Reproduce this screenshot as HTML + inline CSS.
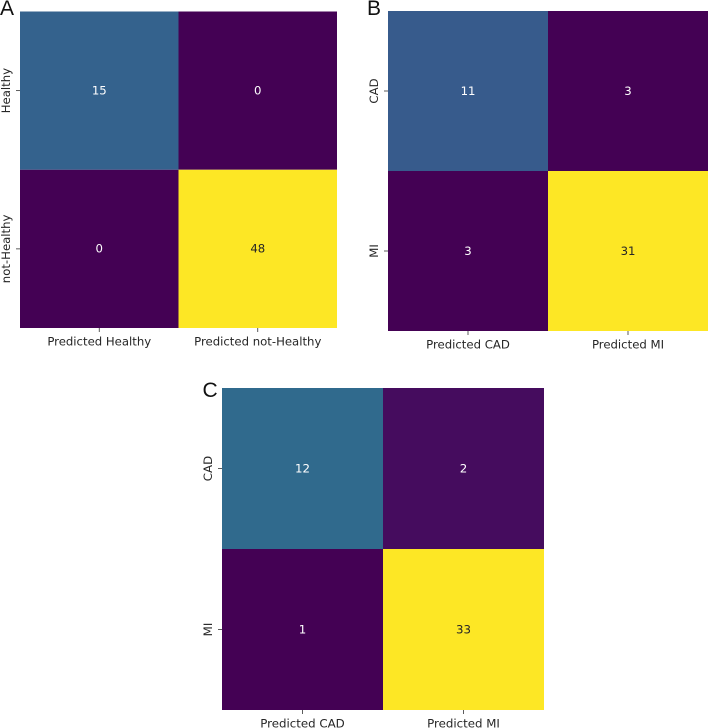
<!DOCTYPE html>
<html>
<head>
<meta charset="utf-8">
<title>Confusion matrices</title>
<style>
html,body{margin:0;padding:0;background:#fff;width:708px;height:728px;overflow:hidden}
svg{display:block}
text{font-family:"DejaVu Sans",sans-serif}
.panel-letter{font-family:"Liberation Sans",sans-serif;font-size:21px;fill:#111}
</style>
</head>
<body>
<svg id="chart" width="708" height="728" viewBox="0 0 708 728" xmlns="http://www.w3.org/2000/svg"></svg>
<script>
const panelLetters = ["A", "B", "C"];
const xCategoriesA = ["Predicted Healthy", "Predicted not-Healthy"];
const yCategoriesA = ["Healthy", "not-Healthy"];
const valuesA = [[15, 0], [0, 48]];
const xCategoriesB = ["Predicted CAD", "Predicted MI"];
const yCategoriesB = ["CAD", "MI"];
const valuesB = [[11, 3], [3, 31]];
const xCategoriesC = ["Predicted CAD", "Predicted MI"];
const yCategoriesC = ["CAD", "MI"];
const valuesC = [[12, 2], [1, 33]];

const viridisStops = ["#440154","#482475","#414487","#355f8d","#2a788e","#21918c","#22a884","#44bf70","#7ad151","#bddf26","#fde725"];
const NS = "http://www.w3.org/2000/svg";
const svg = document.getElementById("chart");

function hexToRgb(h){return [1,3,5].map(function(i){return parseInt(h.substr(i,2),16);});}
function viridis(t){
  const p = Math.max(0,Math.min(1,t))*(viridisStops.length-1);
  const i = Math.min(Math.floor(p),viridisStops.length-2);
  const f = p-i;
  const a = hexToRgb(viridisStops[i]), b = hexToRgb(viridisStops[i+1]);
  return "rgb("+a.map(function(v,k){return Math.round(v+(b[k]-v)*f);}).join(",")+")";
}
function make(tag,attrs,parent){
  const el = document.createElementNS(NS,tag);
  for(const k in attrs){el.setAttribute(k,attrs[k]);}
  parent.appendChild(el);
  return el;
}
function slug(s){return s.toLowerCase().replace(/[^a-z0-9]+/g,"-");}

function drawPanel(cfg){
  const values = cfg.values, rows = values.length, cols = values[0].length;
  const flat = values.reduce(function(a,r){return a.concat(r);},[]);
  const min = Math.min.apply(null,flat), max = Math.max.apply(null,flat);
  const xScale = function(i){return cfg.x0+(cfg.x1-cfg.x0)*i/cols;};
  const yScale = function(i){return cfg.y0+(cfg.y1-cfg.y0)*i/rows;};
  const norm = function(v){return (v-min)/(max-min);};

  const g = make("g",{},svg);
  
  

  const letter = make("text",{x:cfg.lx,y:cfg.ly,"class":"panel-letter"},g);
  letter.textContent = cfg.letter;
  
  

  values.forEach(function(row,r){
    row.forEach(function(v,c){
      const cell = make("rect",{x:xScale(c),y:yScale(r),width:xScale(c+1)-xScale(c),height:yScale(r+1)-yScale(r),fill:viridis(norm(v))},g);
      
      
      const t = make("text",{x:(xScale(c)+xScale(c+1))/2,y:(yScale(r)+yScale(r+1))/2+3.8,"text-anchor":"middle","font-size":cfg.fs,fill:norm(v)>0.6?"#262626":"#ffffff"},g);
      t.textContent = String(v);
      
      
    });
  });

  cfg.xCats.forEach(function(label,c){
    const cx = (xScale(c)+xScale(c+1))/2;
    const tick = make("line",{x1:cx,x2:cx,y1:cfg.y1,y2:cfg.y1+4,stroke:"#333","stroke-width":0.8},g);
    
    
    const t = make("text",{x:cx,y:cfg.y1+17.6,"text-anchor":"middle","font-size":cfg.fs,fill:"#262626"},g);
    t.textContent = label;
    
    
  });
  cfg.yCats.forEach(function(label,r){
    const cy = (yScale(r)+yScale(r+1))/2;
    const tick = make("line",{x1:cfg.x0-4,x2:cfg.x0,y1:cy,y2:cy,stroke:"#333","stroke-width":0.8},g);
    
    
    const tx = cfg.x0-10;
    const t = make("text",{x:tx,y:cy,"text-anchor":"middle","font-size":cfg.fs,fill:"#262626",transform:"rotate(-90 "+tx+" "+cy+")"},g);
    t.textContent = label;
    
    
  });
}

drawPanel({letter:panelLetters[0],values:valuesA,xCats:xCategoriesA,yCats:yCategoriesA,x0:20,x1:337,y0:11.5,y1:328,lx:0,ly:15,fs:11.7});
drawPanel({letter:panelLetters[1],values:valuesB,xCats:xCategoriesB,yCats:yCategoriesB,x0:388,x1:708,y0:11,y1:331,lx:367,ly:15,fs:11.7});
drawPanel({letter:panelLetters[2],values:valuesC,xCats:xCategoriesC,yCats:yCategoriesC,x0:222,x1:544,y0:388,y1:710,lx:202.5,ly:397,fs:11.8});
</script>
</body>
</html>
